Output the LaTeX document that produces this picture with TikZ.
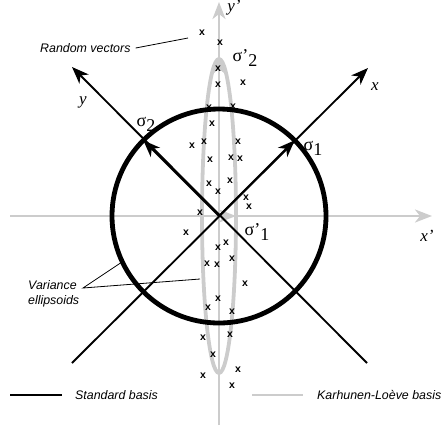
\documentclass[tikz,border=0pt]{standalone}
\usepackage{fontspec}
\setmainfont{Liberation Serif}
\newfontfamily\lsans{Liberation Sans}
\usetikzlibrary{arrows.meta}
\definecolor{klgray}{RGB}{204,204,204}
\begin{document}
\begin{tikzpicture}[x=1pt,y=-1pt,
  stdaxis/.style={line width=1.9pt, black},
  klaxis/.style={line width=2.6pt, klgray},
  bigtip/.style={-{Stealth[length=17pt,width=13pt,inset=5pt]}},
  xmark/.style={font=\lsans\bfseries\fontsize{10.5}{10.5}\selectfont, inner sep=0pt},
  note/.style={font=\lsans\itshape\fontsize{12.4}{14.5}\selectfont, inner sep=0pt},
  axlabel/.style={font=\itshape\fontsize{17}{17}\selectfont, inner sep=0pt},
  siglabel/.style={font=\fontsize{18}{18}\selectfont, inner sep=0pt},
  leader/.style={line width=0.8pt, black}]
\useasboundingbox (0,0) rectangle (441,432);
% key points
\coordinate (O) at (219,216);
\coordinate (XL) at (10,216);
\coordinate (XR) at (432,216);
\coordinate (YB) at (219,425);
\coordinate (YT) at (219,2);
\coordinate (XA) at (368,68);
\coordinate (XB) at (72,363);
\coordinate (YA) at (72,67);
\coordinate (YBot) at (367,363);
\coordinate (S1) at (294.7,140.3);
\coordinate (S2) at (143.3,140.3);
\coordinate (T1) at (236,216);
\coordinate (T2) at (219,57);
% Karhunen-Loeve basis (grey)
\draw[klaxis, line width=3.8pt] (O) ellipse [x radius=17, y radius=157];
\draw[klaxis, bigtip] (XL) -- (XR);
\draw[klaxis, bigtip] (YB) -- (YT);
\draw[klaxis, bigtip] (O) -- (T1);
\draw[klaxis, bigtip] (O) -- (T2);
% standard basis (black)
\draw[stdaxis, bigtip] (XB) -- (XA);
\draw[stdaxis, bigtip] (YBot) -- (YA);
\draw[line width=4.8pt, black] (O) circle [radius=107];
\draw[stdaxis, bigtip] (O) -- (S1);
\draw[stdaxis, bigtip] (O) -- (S2);
% labels
\node[axlabel] (lx) at (375,87) {x};
\node[axlabel] (ly) at (83,102) {y};
\node[axlabel] (lxp) at (427,236) {x’};
\node[axlabel] (lyp) at (234,8) {y’};
\node[siglabel] (s1) at (313,148) {σ\raisebox{-5pt}{1}};
\node[siglabel] (s2) at (146,124) {σ\raisebox{-5pt}{2}};
\node[siglabel] (sp1) at (257,232) {σ’\raisebox{-5pt}{1}};
\node[siglabel] (sp2) at (245,58) {σ’\raisebox{-5pt}{2}};
% random vectors
\foreach \p [count=\i] in {(202,33),(220,43),(218,69),(218,85),(243,83),(209,108),(233,107),
  (212,124),(192,146),(204,142),(238,142),(210,160),(231,158),(240,159),(209,184),(218,192),(230,181),(246,198),(249,207),
  (200,213),(186,233),(218,248),(226,243),(207,264),(217,265),(232,259),(245,284),(218,299),
  (208,308),(232,312),(203,338),(230,335),(213,355),(238,370),(203,376),(232,386)}
  \node[xmark] (m\i) at \p {x};
% notes
\node[note, anchor=west] (rv) at (40,48) {Random vectors};
\coordinate (rvend) at (188,38);
\draw[leader] (rv.east) ++(5,0) coordinate (rvstart) -- (rvend);
\node[note, anchor=west, align=left] (ve) at (28,294) {Variance\\ellipsoids};
\coordinate (vep) at (83,288);
\coordinate (vec) at (122,262);
\coordinate (vee) at (200,279);
\draw[leader] (vec) -- (vep) -- (vee);
% legend
\coordinate (sb1) at (10,395);
\coordinate (sb2) at (62,395);
\draw[stdaxis] (sb1) -- (sb2);
\node[note, anchor=west] (sbt) at (75,395) {Standard basis};
\coordinate (kl1) at (252,395);
\coordinate (kl2) at (303,395);
\draw[klaxis] (kl1) -- (kl2);
\node[note, anchor=west] (klt) at (317,395) {Karhunen-Loève basis};
\end{tikzpicture}
\end{document}
